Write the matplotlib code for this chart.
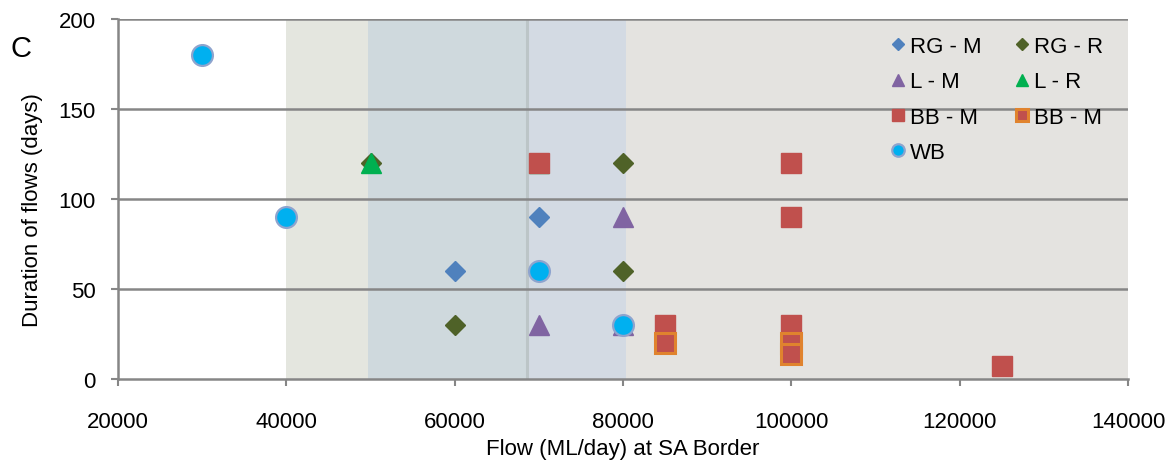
import matplotlib
matplotlib.use("Agg")
import matplotlib.pyplot as plt

plt.rcParams['font.family'] = ['Liberation Sans', 'DejaVu Sans']

# series
rg_m_x = [60000, 70000]
rg_m_y = [60, 90]
rg_r_x = [50000, 60000, 80000, 80000]
rg_r_y = [120, 30, 120, 60]
l_m_x = [70000, 80000, 80000]
l_m_y = [30, 90, 30]
l_r_x = [50000, 70000]
l_r_y = [120, 120]
bb_m_x = [70000, 85000, 100000, 100000, 100000, 125000]
bb_m_y = [120, 30, 120, 90, 30, 7]
bb_m2_x = [85000, 100000, 100000]
bb_m2_y = [20, 20, 14]
wb_x = [30000, 40000, 70000, 80000]
wb_y = [180, 90, 60, 30]

x_ticks = [20000, 40000, 60000, 80000, 100000, 120000, 140000]
y_ticks = [0, 50, 100, 150, 200]

GRID = "#868686"

fig = plt.figure(figsize=(11.71, 4.64), dpi=100)
ax = fig.add_axes([118 / 1171, 1 - 380 / 464, 1010 / 1171, 360 / 464])

# background bands
ax.axvspan(40000, 49700, color="#E4E6DF", lw=0, zorder=0)
ax.axvspan(49700, 68500, color="#CFD9DD", lw=0, zorder=0)
ax.axvspan(68500, 80400, color="#D3DAE3", lw=0, zorder=0)
ax.axvspan(80400, 140000, color="#E4E3E0", lw=0, zorder=0)
ax.axvline(68600, color="#BCC5C7", lw=2.2, zorder=0.5)

for y in y_ticks[1:]:
    ax.axhline(y, color=GRID, lw=1.8, zorder=1)

h_rgm, = ax.plot(rg_m_x, rg_m_y, ls="none", marker="D", ms=10.5, color="#4F81BD", zorder=3)
h_rgr, = ax.plot(rg_r_x, rg_r_y, ls="none", marker="D", ms=10.5, color="#4F6228", zorder=3)
h_lm, = ax.plot(l_m_x, l_m_y, ls="none", marker="^", ms=15, color="#8064A2", zorder=3)
h_lr, = ax.plot(l_r_x, l_r_y, ls="none", marker="^", ms=15, color="#00B050", zorder=3)
h_bbm, = ax.plot(bb_m_x, bb_m_y, ls="none", marker="s", ms=14, color="#C0504D", zorder=3)
h_bbm2, = ax.plot(bb_m2_x, bb_m2_y, ls="none", marker="s", ms=14, mfc="#C0504D",
                  mec="#E0832E", mew=2.2, zorder=3)
h_wb, = ax.plot(wb_x, wb_y, ls="none", marker="o", ms=15, mfc="#00B0F0",
                mec="#8EA4CE", mew=1.6, zorder=3)

ax.set_xlim(20000, 140000)
ax.set_ylim(0, 200)
ax.set_xticks(x_ticks)
ax.set_yticks(y_ticks)
ax.tick_params(axis="both", direction="out", length=5, width=1.5, color=GRID,
               labelsize=16)
ax.tick_params(axis="x", pad=18)
ax.tick_params(axis="y", pad=11)

for side in ["top", "right"]:
    ax.spines[side].set_visible(False)
for side in ["left", "bottom"]:
    ax.spines[side].set_color(GRID)
    ax.spines[side].set_linewidth(1.8)
ax.set_facecolor("white")

ax.set_xlabel("Flow (ML/day) at SA Border", fontsize=16)
ax.xaxis.set_label_coords(0.5, -0.163)
ax.set_ylabel("Duration of flows (days)", fontsize=16)
ax.yaxis.set_label_coords(-0.074, 0.472)

fig.text(10 / 1171, 1 - 57 / 464, "C", fontsize=21)

handles = [h_rgm, h_lm, h_bbm, h_wb, h_rgr, h_lr, h_bbm2]
labels = ["RG - M", "L - M", "BB - M", "WB", "RG - R", "L - R", "BB - M"]
ax.legend(handles, labels, ncol=2, loc="upper left",
          bbox_to_anchor=(880 / 1171, 1 - 26 / 464), bbox_transform=fig.transFigure,
          frameon=False, fontsize=16, markerscale=0.6, handlelength=0.6,
          handletextpad=0.25, columnspacing=1.5, borderpad=0, labelspacing=0.64)

fig.savefig("out.png", dpi=100)
